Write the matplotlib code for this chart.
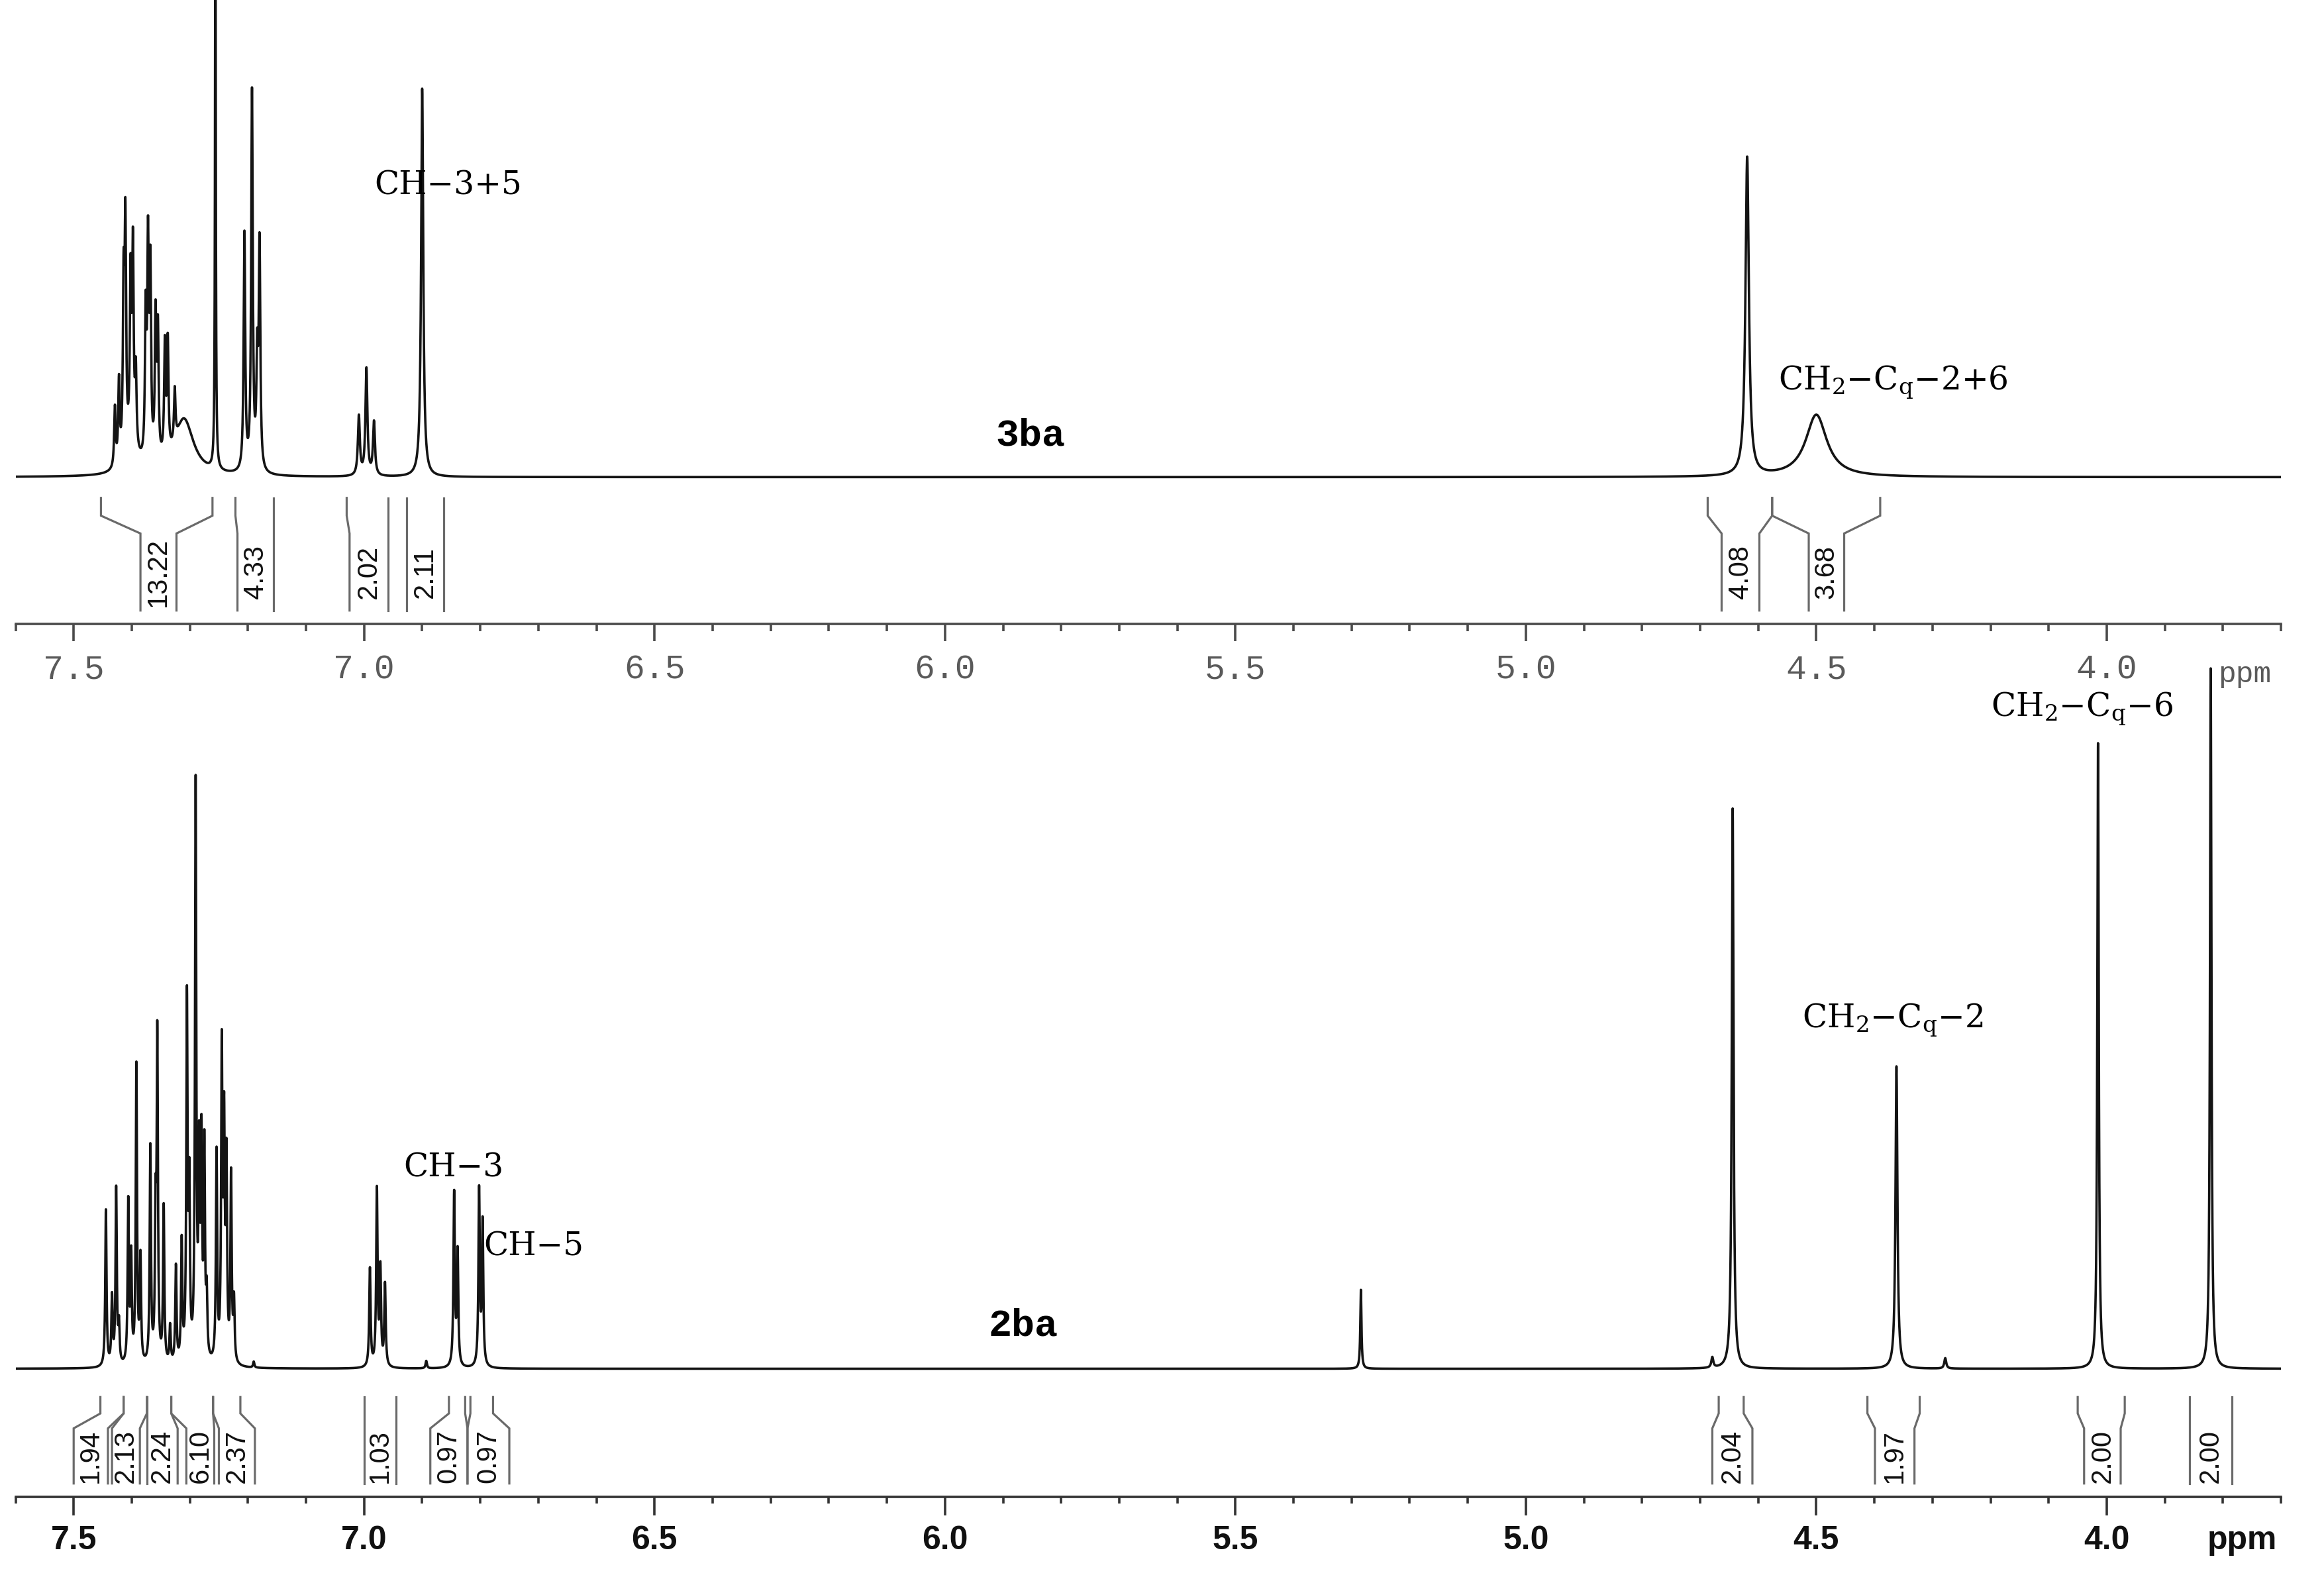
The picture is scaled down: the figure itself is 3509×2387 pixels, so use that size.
import numpy as np
import matplotlib.pyplot as plt
from matplotlib.ticker import MultipleLocator, FormatStrFormatter

plt.rcParams['mathtext.fontset'] = 'dejavuserif'

# ------------------------------------------------------------
# 3ba (upper trace): peak list
# ppm, height above baseline, half width
# ------------------------------------------------------------
top_ppm = [7.429, 7.422, 7.414, 7.411, 7.402, 7.398, 7.393, 7.376, 7.372, 7.368,
           7.359, 7.355, 7.343, 7.338, 7.326, 7.400, 7.310,
           7.256, 7.206, 7.193, 7.184, 7.180,
           7.009, 6.996, 6.983, 6.900, 4.619, 4.500]
top_h = [40, 55, 110, 150, 110, 130, 50, 95, 140, 125,
         95, 85, 75, 75, 35, 15, 38,
         420, 160, 255, 70, 150,
         40, 72, 36, 262, 215, 42]
top_w = [0.0015] * 15 + [0.012, 0.02,
         0.0008, 0.0016, 0.0016, 0.0016, 0.0016,
         0.002, 0.002, 0.002, 0.0022, 0.0035, 0.022]

top_int_labels = ["13.22", "4.33", "2.02", "2.11", "4.08", "3.68"]
top_int_region = [(7.453, 7.261), (7.2215, 7.156), (7.030, 6.959), (6.927, 6.863),
                  (4.687, 4.576), (4.576, 4.390)]
top_int_box = [(7.385, 7.323), (7.218, 7.156), (7.025, 6.959), (6.927, 6.863),
               (4.663, 4.598), (4.513, 4.452)]

# ------------------------------------------------------------
# 2ba (lower trace)
# ------------------------------------------------------------
bot_ppm = [7.4445, 7.434, 7.4268, 7.422, 7.406, 7.401, 7.392, 7.385, 7.368, 7.359,
           7.356, 7.345, 7.334, 7.324, 7.314, 7.305, 7.301, 7.290, 7.284, 7.280,
           7.275, 7.271, 7.254, 7.245, 7.241, 7.237, 7.229, 7.224, 7.190,
           6.990, 6.978, 6.972, 6.964, 6.893, 6.845, 6.839, 6.802, 6.796,
           5.284, 4.679, 4.644, 4.362, 4.278, 4.015, 3.821]
bot_h = [105, 45, 118, 25, 108, 70, 200, 70, 145, 90,
         215, 105, 25, 65, 80, 240, 110, 385, 130, 140,
         140, 40, 140, 205, 150, 130, 125, 40, 4,
         66, 118, 64, 55, 5, 116, 76, 118, 96,
         53, 7, 376, 203, 7, 420, 470]
bot_w = [0.0013] * 29 + [0.0014] * 9 + [0.0012, 0.002, 0.0018, 0.002, 0.002, 0.0015, 0.0015]

bot_int_labels = ["1.94", "2.13", "2.24", "6.10", "2.37", "1.03", "0.97", "0.97",
                  "2.04", "1.97", "2.00", "2.00"]
bot_int_region = [(7.454, 7.414), (7.414, 7.374), (7.374, 7.332), (7.332, 7.260),
                  (7.260, 7.213), (7.000, 6.945), (6.854, 6.826), (6.817, 6.778),
                  (4.668, 4.625), (4.412, 4.322), (4.050, 3.969), (3.857, 3.785)]
bot_int_box = [(7.500, 7.441), (7.434, 7.386), (7.374, 7.321), (7.306, 7.258),
               (7.250, 7.188), (7.000, 6.945), (6.886, 6.822), (6.822, 6.750),
               (4.679, 4.610), (4.399, 4.331), (4.039, 3.976), (3.857, 3.785)]


def spectrum(x, ppm, h, w):
    # sum of lorentzian lines
    y = np.zeros_like(x)
    for p, a, g in zip(ppm, h, w):
        y += a / (1 + ((x - p) / g) ** 2)
    return y


def draw_integrals(ax, labels, regions, boxes, ys, fs):
    y0, y1, y2, y3 = ys
    for lab, reg, box in zip(labels, regions, boxes):
        for r, b in zip(reg, box):
            ax.plot([r, r, b, b], [y0, y1, y2, y3], color='#6a6a6a', lw=2.3,
                    solid_joinstyle='miter')
        ax.text((box[0] + box[1]) / 2, (y2 + y3) / 2, lab, rotation=90,
                ha='center', va='center', fontsize=fs, color='#111111',
                family='Liberation Sans')


def setup_axis(ax, color, lw, maj_len, min_len, pad, labsize, labcolor, family, weight):
    ax.set_xlim(7.60, 3.70)
    for s in ['left', 'right', 'top']:
        ax.spines[s].set_visible(False)
    ax.spines['bottom'].set_color(color)
    ax.spines['bottom'].set_linewidth(lw)
    ax.set_yticks([])
    ax.patch.set_visible(False)
    ax.xaxis.set_major_locator(MultipleLocator(0.5))
    ax.xaxis.set_minor_locator(MultipleLocator(0.1))
    ax.xaxis.set_major_formatter(FormatStrFormatter('%.1f'))
    ax.tick_params(axis='x', which='major', length=maj_len, width=lw, color=color,
                   pad=pad, labelsize=labsize, labelcolor=labcolor)
    ax.tick_params(axis='x', which='minor', length=min_len, width=lw, color=color)
    for t in ax.get_xticklabels():
        t.set_family(family)
        t.set_weight(weight)


xs = np.linspace(7.60, 3.70, 40000)

fig = plt.figure(figsize=(35.09, 23.87), dpi=100)

# ---------------- upper panel ----------------
ax1 = fig.add_axes([0.0067, 0.6054, 0.9748, 0.3946])
ax1.set_ylim(-99, 322)
ax1.plot(xs, spectrum(xs, top_ppm, top_h, top_w), color='#141414', lw=2.6)
draw_integrals(ax1, top_int_labels, top_int_region, top_int_box, (-14, -26, -38, -90), 30)
setup_axis(ax1, '#4a4a4a', 2.6, 19, 8, 13, 37, '#5a5a5a', 'Liberation Mono', 'normal')

ax1.text(6.982, 197, "CH\u22123+5", fontsize=35, family='DejaVu Serif', va='center', ha='left')
ax1.text(5.853, 28, "3ba", fontsize=42, family='Liberation Mono', weight='bold',
         va='center', ha='center')
ax1.text(4.565, 64, r"CH$_2$" "\u2212" r"C$_\mathrm{q}$" "\u22122+6", fontsize=35,
         family='DejaVu Serif', va='center', ha='left')
fig.text(0.966, 0.5735, "ppm", fontsize=32, family='Liberation Mono', color='#5a5a5a',
         ha='center', va='center')

# ---------------- lower panel ----------------
ax2 = fig.add_axes([0.0067, 0.0532, 0.9748, 0.5438])
ax2.set_ylim(-86, 491)
ax2.plot(xs, spectrum(xs, bot_ppm, bot_h, bot_w), color='#141414', lw=2.6)
draw_integrals(ax2, bot_int_labels, bot_int_region, bot_int_box, (-19, -30, -40, -77), 30)
setup_axis(ax2, '#333333', 2.6, 20, 7, 11, 36, '#111111', 'Liberation Sans', 'bold')

ax2.text(6.932, 135, "CH\u22123", fontsize=35, family='DejaVu Serif', va='center', ha='left')
ax2.text(6.794, 82, "CH\u22125", fontsize=35, family='DejaVu Serif', va='center', ha='left')
ax2.text(5.865, 29, "2ba", fontsize=42, family='Liberation Mono', weight='bold',
         va='center', ha='center')
ax2.text(4.524, 234, r"CH$_2$" "\u2212" r"C$_\mathrm{q}$" "\u22122", fontsize=35,
         family='DejaVu Serif', va='center', ha='left')
ax2.text(4.199, 438, r"CH$_2$" "\u2212" r"C$_\mathrm{q}$" "\u22126", fontsize=35,
         family='DejaVu Serif', va='baseline', ha='left')
fig.text(0.9647, 0.0255, "ppm", fontsize=36, family='Liberation Sans', weight='bold',
         color='#111111', ha='center', va='center')

fig.savefig('out.png', dpi=100, facecolor='white')
